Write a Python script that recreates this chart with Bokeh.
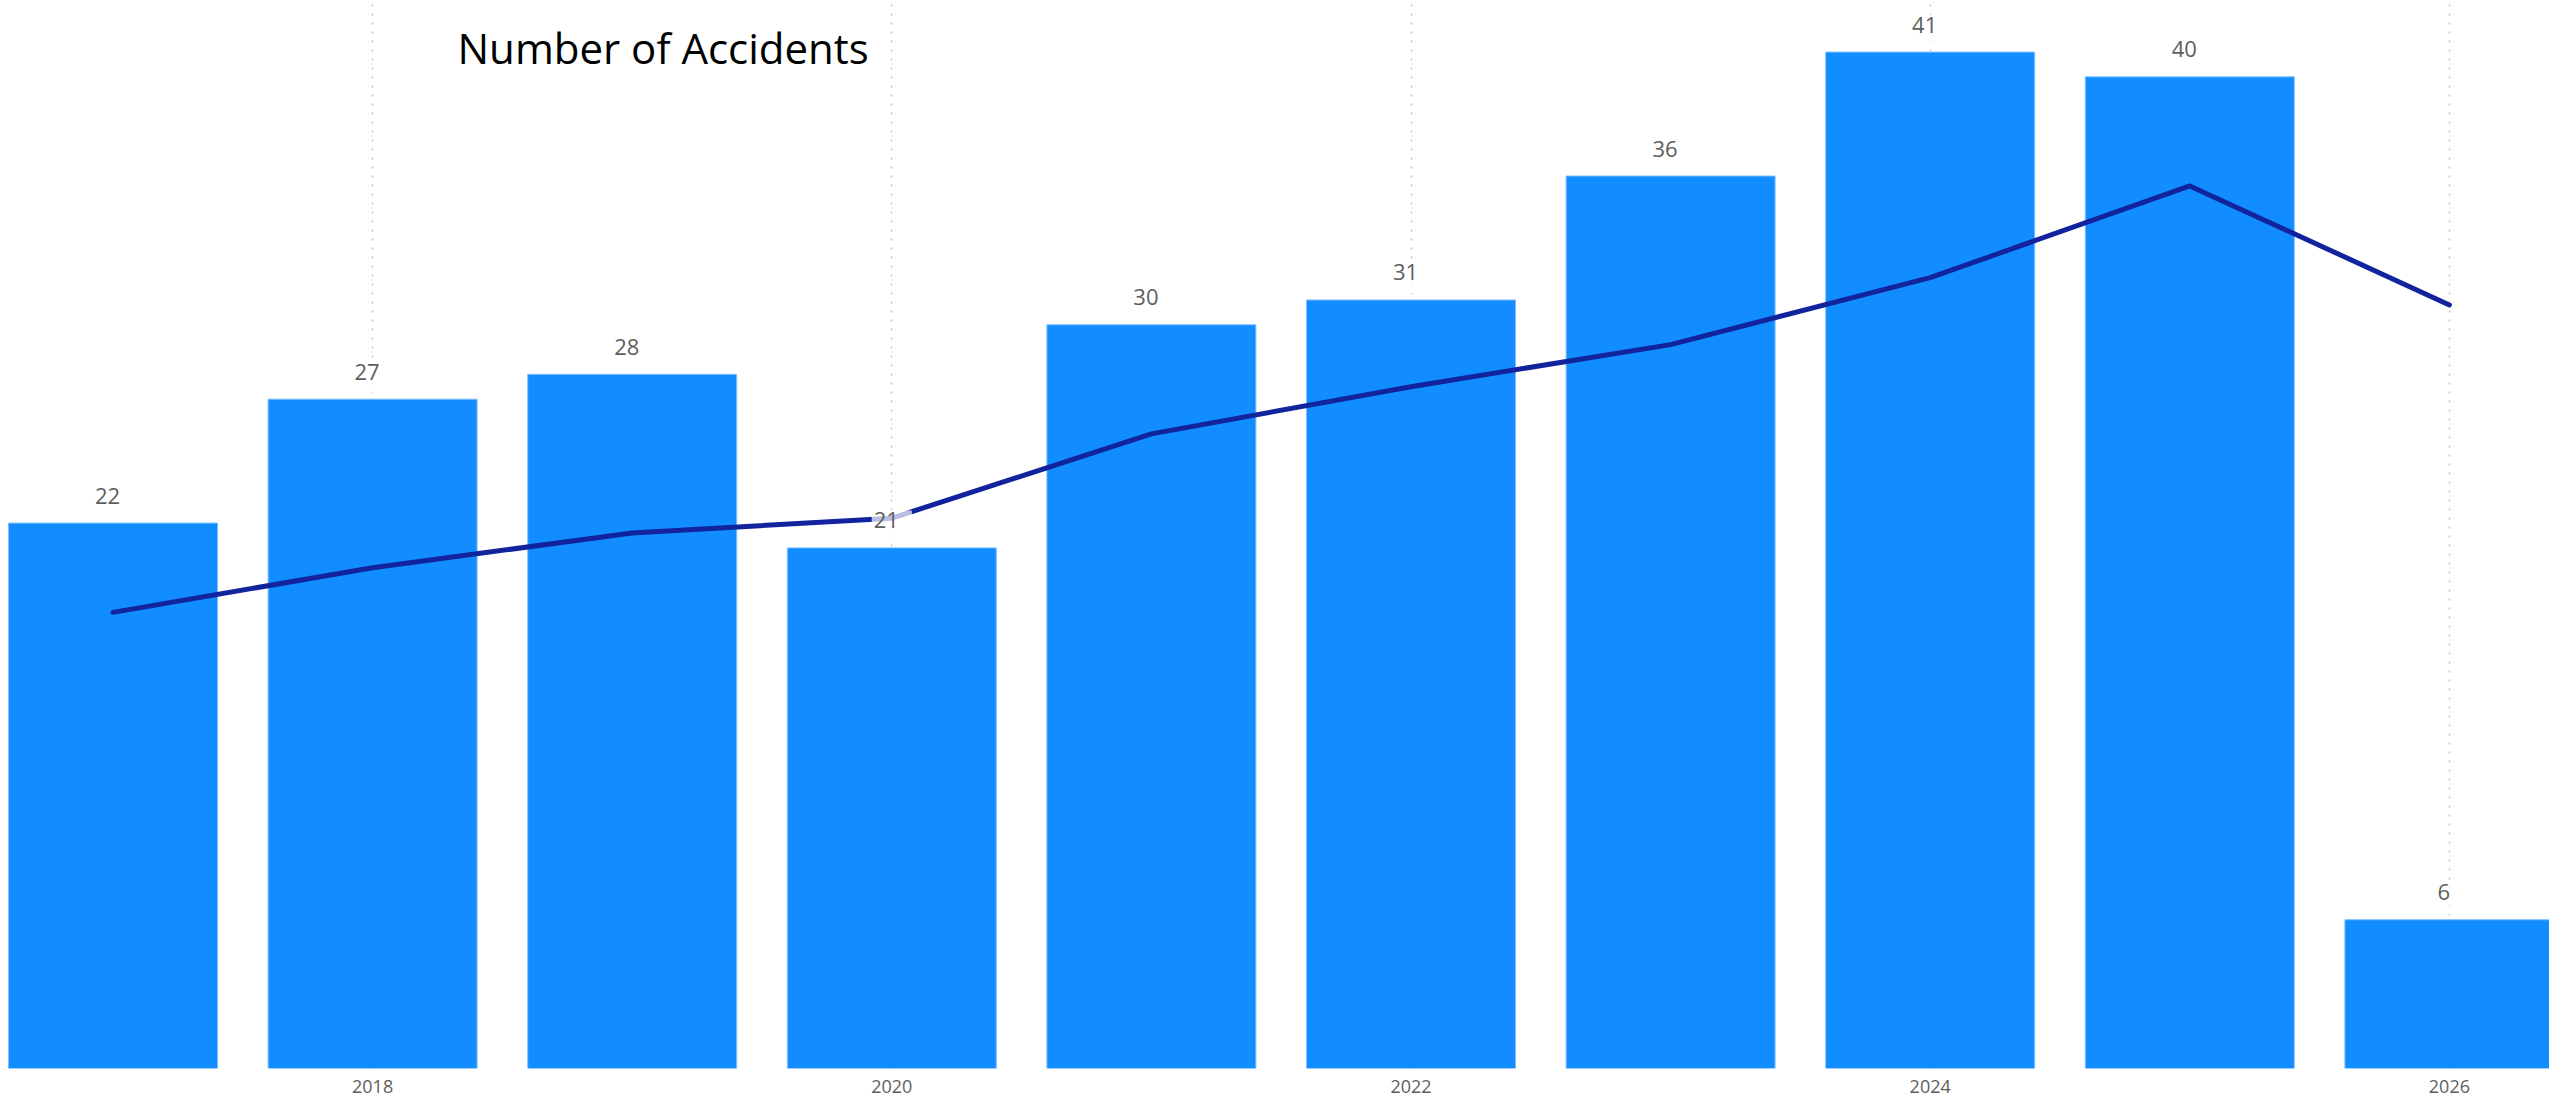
from bokeh.plotting import figure
from bokeh.models import Range1d, FixedTicker, Label, ColumnDataSource
from bokeh.core.properties import value
from bokeh.embed import file_html
from bokeh.resources import INLINE

# ---- data ----
years = [2017, 2018, 2019, 2020, 2021, 2022, 2023, 2024, 2025, 2026]
accidents = [22, 27, 28, 21, 30, 31, 36, 41, 40, 6]
trend = [18.4, 20.2, 21.6, 22.2, 25.6, 27.5, 29.2, 31.9, 35.6, 30.8]
tick_years = [2018, 2020, 2022, 2024, 2026]
title_text = "Number of Accidents"

FONT = "Open Sans"
src = ColumnDataSource(dict(x=years, y=accidents, lbl=[str(v) for v in accidents]))

p = figure(frame_width=2549, frame_height=1068, output_backend="svg",
           toolbar_location=None, y_axis_location=None,
           x_range=Range1d(2016.5666, 2026.3856), y_range=Range1d(0, 43.08),
           min_border=0, min_border_bottom=36,
           background_fill_color="white", border_fill_color="white")
p.outline_line_color = None
p.ygrid.grid_line_color = None

p.xgrid.ticker = FixedTicker(ticks=tick_years)
p.xgrid.grid_line_color = "#C8C6C4"
p.xgrid.grid_line_dash = "2 7"
p.xgrid.grid_line_width = 1.5

ax = p.xaxis[0]
ax.ticker = FixedTicker(ticks=tick_years)
ax.axis_line_color = None
ax.major_tick_line_color = None
ax.minor_tick_line_color = None
ax.major_tick_out = 0
ax.major_tick_in = 0
ax.major_label_standoff = 11
ax.major_label_text_font = FONT
ax.major_label_text_font_size = "18px"
ax.major_label_text_color = "#605E5C"

p.vbar(x="x", top="y", width=0.805, bottom=0, source=src,
       fill_color="#118DFF", line_color="#7DBEFF", line_width=1)

p.line(years, trend, line_color="#12239E", line_width=5,
       line_join="round", line_cap="round")

p.text(x="x", y="y", text="lbl", source=src, y_offset=-22,
       text_align="center", text_baseline="alphabetic",
       text_font=value(FONT), text_font_size="22px", text_color="#605E5C",
       background_fill_color="white", background_fill_alpha=0.7,
       padding=[2, 13, 2, 13])

p.add_layout(Label(x=2018.327, y=41.19, text=title_text, text_align="left",
                   text_baseline="middle", text_font=FONT,
                   text_font_size="42px", text_color="#000000"))

open("out.html", "w").write(file_html(p, INLINE))
